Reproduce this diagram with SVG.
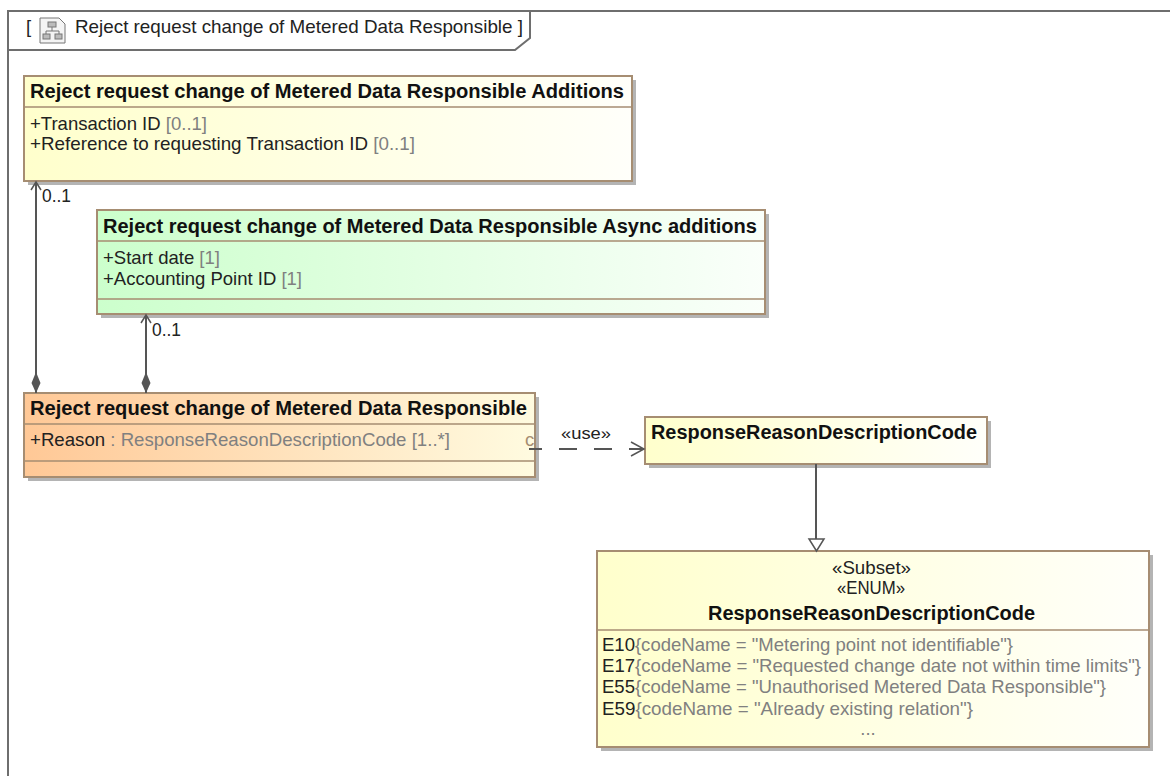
<svg xmlns="http://www.w3.org/2000/svg" width="1170" height="776" viewBox="0 0 1170 776">
<style>
text{font-family:"Liberation Sans",Arial,sans-serif;font-size:18.500px;fill:#222}
.t{font-weight:bold;font-size:19.500px;fill:#111}
.g{fill:#808080}
.box{stroke:#a68d72;stroke-width:2}
.sep{stroke:#a68d72;stroke-width:1.500;fill:none}
.sh{fill:#b4b4b4}
.ln{stroke:#555;stroke-width:2;fill:none}
.fr{stroke:#6e6e6e;stroke-width:2;fill:none}
</style>
<defs>
<linearGradient id="y"><stop offset="0" stop-color="#ffffcc"/><stop offset="1" stop-color="#fffffa"/></linearGradient>
<linearGradient id="gr"><stop offset="0" stop-color="#ccffcc"/><stop offset="1" stop-color="#fafffa"/></linearGradient>
<linearGradient id="o"><stop offset="0" stop-color="#ffc896"/><stop offset="1" stop-color="#fffbe0"/></linearGradient>
<marker id="open" markerWidth="12" markerHeight="12" refX="9" refY="6" orient="auto" markerUnits="userSpaceOnUse"><path d="M1 1L9 6L1 11" fill="none" stroke="#555" stroke-width="1.500"/></marker>
<marker id="openb" markerWidth="16" markerHeight="16" refX="14" refY="8" orient="auto" markerUnits="userSpaceOnUse"><path d="M1 1L14 8L1 15" fill="none" stroke="#555" stroke-width="1.500"/></marker>
</defs>
<g id="frame">
<path class="fr" d="M1170 11H8V776"/>
<path class="fr" d="M8 50H515L530 38V11"/>
<text x="26" y="33">[</text>
<g id="icon" fill="none" stroke="#777" stroke-width="1">
<path d="M40 18H59L65 24V43H40Z" fill="#f4f4f4"/>
<rect x="48" y="22" width="8" height="5" fill="#bbb"/>
<path d="M52 27V31M46 34V31H59V34"/>
<rect x="43" y="34" width="7" height="5" fill="#bbb"/>
<rect x="55" y="34" width="7" height="5" fill="#bbb"/>
</g>
<text x="75" y="33" textLength="448" lengthAdjust="spacingAndGlyphs">Reject request change of Metered Data Responsible ]</text>
</g>
<g id="additions">
<rect class="sh" x="28" y="80" width="608" height="105"/>
<rect class="box" x="24" y="76" width="608" height="105" fill="url(#y)"/>
<path class="sep" d="M24 107H632"/>
<text class="t" x="30" y="98" textLength="594" lengthAdjust="spacingAndGlyphs">Reject request change of Metered Data Responsible Additions</text>
<text x="30" y="130" textLength="177" lengthAdjust="spacingAndGlyphs">+Transaction ID <tspan class="g">[0..1]</tspan></text>
<text x="30" y="150" textLength="385" lengthAdjust="spacingAndGlyphs">+Reference to requesting Transaction ID <tspan class="g">[0..1]</tspan></text>
</g>
<g id="async">
<rect class="sh" x="101" y="214" width="668" height="104"/>
<rect class="box" x="97" y="210" width="668" height="104" fill="url(#gr)"/>
<path class="sep" d="M97 241H765M97 299H765"/>
<text class="t" x="103" y="233" textLength="654" lengthAdjust="spacingAndGlyphs">Reject request change of Metered Data Responsible Async additions</text>
<text x="103" y="264" textLength="117" lengthAdjust="spacingAndGlyphs">+Start date <tspan class="g">[1]</tspan></text>
<text x="103" y="285" textLength="199" lengthAdjust="spacingAndGlyphs">+Accounting Point ID <tspan class="g">[1]</tspan></text>
</g>
<g id="reject">
<rect class="sh" x="28" y="397" width="511" height="84"/>
<rect class="box" x="24" y="393" width="511" height="84" fill="url(#o)"/>
<path class="sep" d="M24 424H535M24 461H535"/>
<text class="t" x="30" y="415" textLength="497" lengthAdjust="spacingAndGlyphs">Reject request change of Metered Data Responsible</text>
<text x="30" y="446" textLength="420" lengthAdjust="spacingAndGlyphs">+Reason <tspan class="g">: ResponseReasonDescriptionCode [1..*]</tspan></text>
<text x="525" y="446" style="fill:#a68d72">c</text>
</g>
<g id="code">
<rect class="sh" x="649" y="421" width="342" height="47"/>
<rect class="box" x="645" y="417" width="342" height="47" fill="url(#y)"/>
<text class="t" x="651" y="439" textLength="326" lengthAdjust="spacingAndGlyphs">ResponseReasonDescriptionCode</text>
</g>
<g id="enum">
<rect class="sh" x="601" y="555" width="552" height="196"/>
<rect class="box" x="597" y="551" width="552" height="196" fill="url(#y)"/>
<path class="sep" d="M597 630H1149"/>
<text x="832" y="574" textLength="79" lengthAdjust="spacingAndGlyphs">«Subset»</text>
<text x="837" y="594" textLength="68" lengthAdjust="spacingAndGlyphs">«ENUM»</text>
<text class="t" x="708" y="620" textLength="327" lengthAdjust="spacingAndGlyphs">ResponseReasonDescriptionCode</text>
<text x="602" y="651" textLength="411" lengthAdjust="spacingAndGlyphs">E10<tspan class="g">{codeName = "Metering point not identifiable"}</tspan></text>
<text x="602" y="672" textLength="539" lengthAdjust="spacingAndGlyphs">E17<tspan class="g">{codeName = "Requested change date not within time limits"}</tspan></text>
<text x="602" y="693" textLength="504" lengthAdjust="spacingAndGlyphs">E55<tspan class="g">{codeName = "Unauthorised Metered Data Responsible"}</tspan></text>
<text x="602" y="715" textLength="371" lengthAdjust="spacingAndGlyphs">E59<tspan class="g">{codeName = "Already existing relation"}</tspan></text>
<text class="g" x="868" y="735" text-anchor="middle">...</text>
</g>
<g id="connectors">
<path class="ln" d="M36 393V182" marker-end="url(#open)"/>
<path d="M36 393L31.500 383L36 372L40.500 383Z" fill="#555"/>
<path class="ln" d="M146 393V315" marker-end="url(#open)"/>
<path d="M146 393L141.500 383L146 372L150.500 383Z" fill="#555"/>
<path class="ln" d="M529 449H644" stroke-dasharray="18 17" stroke-dashoffset="5" marker-end="url(#openb)"/>
<path class="ln" d="M816 464V539"/>
<path d="M809 539H824L816.500 551Z" fill="#fff" stroke="#555" stroke-width="1.500"/>
<text x="42" y="202" textLength="29" lengthAdjust="spacingAndGlyphs">0..1</text>
<text x="152" y="336" textLength="29" lengthAdjust="spacingAndGlyphs">0..1</text>
<text x="561" y="439" textLength="50" lengthAdjust="spacingAndGlyphs" style="font-size:17px">«use»</text>
</g>
</svg>
